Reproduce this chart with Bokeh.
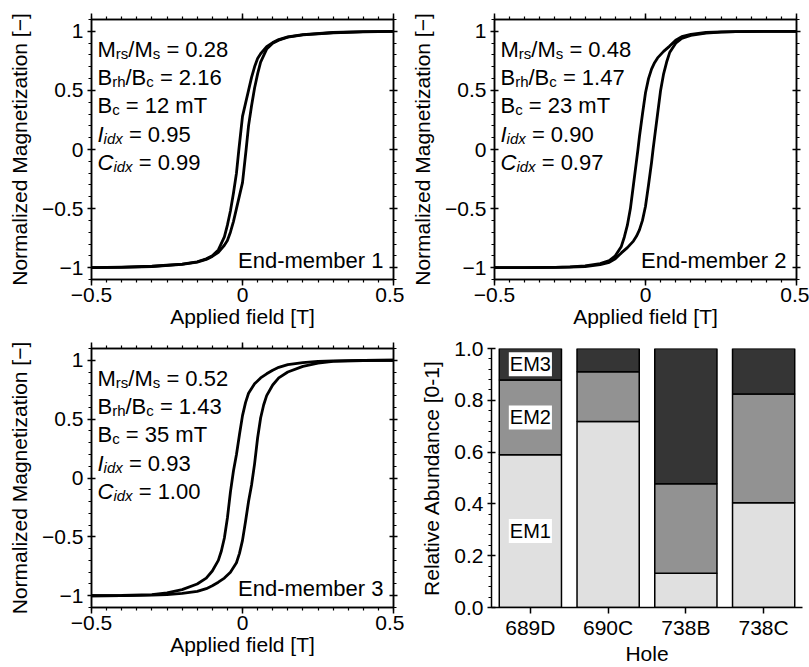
from bokeh.plotting import figure
from bokeh.models import (LinearAxis, SingleIntervalTicker, Label, ColumnDataSource,
                          FactorRange, PrintfTickFormatter)
from bokeh.layouts import column, row
from bokeh.core.properties import value
from bokeh.embed import file_html
from bokeh.resources import INLINE

FONT = "Liberation Sans"

# ---------------- data: hysteresis loops ----------------
# descending-field branch (from +0.5 T to -0.5 T) and ascending branch
em1_B_desc = [0.5, 0.4, 0.3, 0.2, 0.15, 0.12, 0.1, 0.08, 0.06, 0.05, 0.04, 0.03, 0.02, 0.01, 0.0,
              -0.012, -0.02, -0.03, -0.04, -0.05, -0.06, -0.08, -0.1, -0.12, -0.15, -0.2, -0.3, -0.4, -0.5]
em1_M_desc = [1.0, 0.997, 0.99, 0.972, 0.953, 0.93, 0.905, 0.87, 0.81, 0.77, 0.70, 0.61, 0.50, 0.39, 0.28,
              0.0, -0.2, -0.37, -0.52, -0.64, -0.74, -0.85, -0.90, -0.925, -0.95, -0.97, -0.988, -0.996, -1.0]
em1_B_asc = [-0.5, -0.4, -0.3, -0.2, -0.15, -0.12, -0.1, -0.08, -0.06, -0.05, -0.04, -0.03, -0.02, -0.01, 0.0,
             0.012, 0.02, 0.03, 0.04, 0.05, 0.06, 0.08, 0.1, 0.12, 0.15, 0.2, 0.3, 0.4, 0.5]
em1_M_asc = [-1.0, -0.997, -0.99, -0.972, -0.953, -0.93, -0.905, -0.87, -0.81, -0.77, -0.70, -0.61, -0.50, -0.39, -0.28,
             0.0, 0.2, 0.37, 0.52, 0.64, 0.74, 0.85, 0.90, 0.925, 0.95, 0.97, 0.988, 0.996, 1.0]

em2_B_desc = [0.5, 0.4, 0.3, 0.25, 0.2, 0.15, 0.12, 0.1, 0.08, 0.06, 0.04, 0.03, 0.02, 0.01, 0.0, -0.01, -0.02,
              -0.025, -0.03, -0.04, -0.05, -0.06, -0.07, -0.08, -0.1, -0.12, -0.15, -0.2, -0.25, -0.3, -0.4, -0.5]
em2_M_desc = [1.0, 1.0, 0.998, 0.995, 0.99, 0.975, 0.955, 0.925, 0.875, 0.83, 0.775, 0.735, 0.68, 0.60, 0.48, 0.30, 0.11,
              0.0, -0.1, -0.3, -0.5, -0.64, -0.74, -0.82, -0.90, -0.94, -0.965, -0.985, -0.993, -0.997, -1.0, -1.0]
em2_B_asc = [-0.5, -0.4, -0.3, -0.25, -0.2, -0.15, -0.12, -0.1, -0.08, -0.06, -0.04, -0.03, -0.02, -0.01, 0.0, 0.01, 0.02,
             0.025, 0.03, 0.04, 0.05, 0.06, 0.07, 0.08, 0.1, 0.12, 0.15, 0.2, 0.25, 0.3, 0.4, 0.5]
em2_M_asc = [-1.0, -1.0, -0.998, -0.995, -0.99, -0.975, -0.955, -0.925, -0.875, -0.83, -0.775, -0.735, -0.68, -0.60, -0.48, -0.30, -0.11,
             0.0, 0.1, 0.3, 0.5, 0.64, 0.74, 0.82, 0.90, 0.94, 0.965, 0.985, 0.993, 0.997, 1.0, 1.0]

em3_B_desc = [0.5, 0.4, 0.3, 0.25, 0.2, 0.15, 0.12, 0.1, 0.08, 0.06, 0.04, 0.02, 0.01, 0.0, -0.01, -0.02,
              -0.03, -0.04, -0.05, -0.06, -0.07, -0.08, -0.1, -0.12, -0.15, -0.2, -0.25, -0.3, -0.4, -0.5]
em3_M_desc = [1.0, 0.999, 0.995, 0.99, 0.98, 0.963, 0.94, 0.915, 0.885, 0.85, 0.80, 0.72, 0.64, 0.53, 0.37, 0.20,
              0.06, -0.12, -0.34, -0.51, -0.62, -0.70, -0.79, -0.85, -0.90, -0.948, -0.975, -0.99, -0.998, -1.0]
em3_B_asc = [-0.5, -0.4, -0.3, -0.25, -0.2, -0.15, -0.12, -0.1, -0.08, -0.06, -0.04, -0.02, -0.01, 0.0, 0.01, 0.02,
             0.03, 0.04, 0.05, 0.06, 0.07, 0.08, 0.1, 0.12, 0.15, 0.2, 0.25, 0.3, 0.4, 0.5]
em3_M_asc = [-1.0, -0.999, -0.995, -0.99, -0.98, -0.963, -0.94, -0.915, -0.885, -0.85, -0.80, -0.72, -0.64, -0.53, -0.37, -0.20,
             -0.06, 0.12, 0.34, 0.51, 0.62, 0.70, 0.79, 0.85, 0.90, 0.948, 0.975, 0.99, 0.998, 1.0]

# loop parameters
em_titles = ["End-member 1", "End-member 2", "End-member 3"]
mrs_ms = [0.28, 0.48, 0.52]
brh_bc = [2.16, 1.47, 1.43]
bc_mT = [12, 23, 35]
i_idx = [0.95, 0.90, 0.93]
c_idx = [0.99, 0.97, 1.00]

# axis tick labels
field_tick_labels = {-0.5: "\u22120.5", 0: "0", 0.5: "0.5"}
mag_tick_labels = {-1: "\u22121", -0.5: "\u22120.5", 0: "0", 0.5: "0.5", 1: "1"}

# ---------------- data: abundance bars ----------------
holes = ["689D", "690C", "738B", "738C"]
em1_frac = [0.590, 0.718, 0.132, 0.404]
em2_frac = [0.288, 0.192, 0.346, 0.420]
em3_frac = [0.122, 0.090, 0.522, 0.176]
em_labels = ["EM1", "EM2", "EM3"]
em_colors = ["#e0e0e0", "#929292", "#353535"]

# ---------------- helpers ----------------
ARIAL_W = {' ': 278, '/': 278, '=': 584, '.': 278, '-': 333, 'M': 833, 'B': 667, 'C': 722,
           'I': 278, 'E': 667, 'T': 611, 'r': 333, 's': 500, 'h': 556, 'c': 500, 'i': 222,
           'd': 556, 'x': 500, 'm': 833, 'e': 556, 'b': 556, 'n': 556}
for ch in "0123456789":
    ARIAL_W[ch] = 556


def text_width(t, size):
    return sum(ARIAL_W.get(c, 556) for c in t) / 1000.0 * size


MAIN = 22
SUB = 15
SUB_SHIFT = 4
LINE0 = 29.7
LINE_STEP = 28.3
X0 = 6

XR = (-0.5, 0.5)
YR = (-1.1, 1.1)


def add_rich_line(p, pieces, line_no):
    """pieces: list of (text, is_sub, italic)"""
    x = X0
    base = -(LINE0 + LINE_STEP * line_no)
    for txt, is_sub, italic in pieces:
        size = SUB if is_sub else MAIN
        lead = len(txt) - len(txt.lstrip(' '))
        x += text_width(' ' * lead, size)
        t = txt.lstrip(' ')
        p.add_layout(Label(x=XR[0], y=YR[1], x_offset=x,
                           y_offset=base - (SUB_SHIFT if is_sub else 0),
                           text=t, text_font=FONT, text_font_size=f"{size}px",
                           text_font_style="italic" if italic else "normal",
                           text_baseline="alphabetic", text_align="left", text_color="black"))
        x += text_width(t, size)


def style_axis(ax, major_in, major_out, minor_in, minor_out):
    ax.axis_line_width = 1.5
    ax.axis_line_color = "black"
    ax.major_tick_line_width = 1.5
    ax.minor_tick_line_width = 1.2
    ax.major_tick_line_color = "black"
    ax.minor_tick_line_color = "black"
    ax.major_tick_in = major_in
    ax.major_tick_out = major_out
    ax.minor_tick_in = minor_in
    ax.minor_tick_out = minor_out
    ax.major_label_text_font = FONT
    ax.major_label_text_font_size = "21px"
    ax.major_label_text_color = "black"
    ax.axis_label_text_font = FONT
    ax.axis_label_text_font_size = "21px"
    ax.axis_label_text_font_style = "normal"
    ax.axis_label_text_color = "black"


def hyst_fig(k, Bd, Md, Ba, Ma, width, height, mb_left, mb_right, mb_top, mb_bottom):
    p = figure(width=width, height=height, x_range=XR, y_range=YR,
               output_backend="svg", toolbar_location=None,
               min_border_left=mb_left, min_border_right=mb_right,
               min_border_top=mb_top, min_border_bottom=mb_bottom,
               x_axis_label="Applied field [T]",
               y_axis_label="Normalized Magnetization [\u2212]")
    p.xgrid.visible = False
    p.ygrid.visible = False
    p.outline_line_color = "black"
    p.outline_line_width = 1.5
    p.background_fill_color = "white"
    p.border_fill_color = "white"

    xt = SingleIntervalTicker(interval=0.5, num_minor_ticks=10)
    yt = SingleIntervalTicker(interval=0.5, num_minor_ticks=5)
    p.xaxis.ticker = xt
    p.yaxis.ticker = yt
    p.xaxis.major_label_overrides = field_tick_labels
    p.yaxis.major_label_overrides = mag_tick_labels
    style_axis(p.xaxis[0], 0, 6, 0, 3)
    style_axis(p.yaxis[0], 4, 4, 0, 3)
    p.xaxis.major_label_standoff = 2
    p.xaxis.axis_label_standoff = 0
    p.yaxis.major_label_standoff = 4
    p.yaxis.axis_label_standoff = 8

    top = LinearAxis(ticker=SingleIntervalTicker(interval=0.5, num_minor_ticks=10))
    right = LinearAxis(ticker=SingleIntervalTicker(interval=0.5, num_minor_ticks=5))
    style_axis(top, 0, 6, 0, 3)
    style_axis(right, 4, 4, 0, 3)
    for ax in (top, right):
        ax.major_label_text_font_size = "1px"
        ax.major_label_text_color = None
        ax.major_label_standoff = 0
    p.add_layout(top, "above")
    p.add_layout(right, "right")

    p.line(Ba, Ma, line_color="black", line_width=2.8, line_join="round")
    p.line(Bd, Md, line_color="black", line_width=2.8, line_join="round")

    add_rich_line(p, [("M", False, False), ("rs", True, False), ("/M", False, False),
                      ("s", True, False), (f" = {mrs_ms[k]:.2f}", False, False)], 0)
    add_rich_line(p, [("B", False, False), ("rh", True, False), ("/B", False, False),
                      ("c", True, False), (f" = {brh_bc[k]:.2f}", False, False)], 1)
    add_rich_line(p, [("B", False, False), ("c", True, False),
                      (f" = {bc_mT[k]} mT", False, False)], 2)
    add_rich_line(p, [("I", False, True), ("idx", True, True),
                      (f" = {i_idx[k]:.2f}", False, False)], 3)
    add_rich_line(p, [("C", False, True), ("idx", True, True),
                      (f" = {c_idx[k]:.2f}", False, False)], 4)

    p.add_layout(Label(x=XR[1], y=YR[0], x_offset=-10, y_offset=19, text=em_titles[k],
                       text_font=FONT, text_font_size=f"{MAIN}px", text_align="right",
                       text_baseline="alphabetic", text_color="black"))
    return p


H1 = 336
H2 = 331
p1 = hyst_fig(0, em1_B_desc, em1_M_desc, em1_B_asc, em1_M_asc, 404, H1, 91, 11, 19, 57)
p2 = hyst_fig(1, em2_B_desc, em2_M_desc, em2_B_asc, em2_M_asc, 405, H1, 90, 13, 19, 57)
p3 = hyst_fig(2, em3_B_desc, em3_M_desc, em3_B_asc, em3_M_asc, 404, H2, 91, 11, 12, 59)

# ---------------- bar chart ----------------
src = ColumnDataSource(dict(hole=holes, EM1=em1_frac, EM2=em2_frac, EM3=em3_frac))
p4 = figure(width=405, height=H2, x_range=FactorRange(*holes), y_range=(0, 1),
            output_backend="svg", toolbar_location=None,
            min_border_left=87, min_border_right=7, min_border_top=12, min_border_bottom=59,
            x_axis_label="Hole", y_axis_label="Relative Abundance [0-1]")
p4.xgrid.visible = False
p4.ygrid.visible = False
p4.outline_line_color = None
p4.vbar_stack(em_labels, x="hole", width=0.8, source=src,
              fill_color=em_colors, line_color="black", line_width=1.5)
p4.yaxis.ticker = SingleIntervalTicker(interval=0.2, num_minor_ticks=5)
p4.yaxis.formatter = PrintfTickFormatter(format="%.1f")
style_axis(p4.xaxis[0], 0, 6, 0, 0)
style_axis(p4.yaxis[0], 4, 4, 0, 3)
p4.xaxis.major_label_standoff = 2
p4.xaxis.axis_label_standoff = 0
p4.yaxis.major_label_standoff = 4
p4.yaxis.axis_label_standoff = 8

# segment labels on first bar, at the middle of each segment
first = 0
mid1 = em1_frac[first] / 2
mid2 = em1_frac[first] + em2_frac[first] / 2
mid3 = em1_frac[first] + em2_frac[first] + em3_frac[first] / 2
lab_src = ColumnDataSource(dict(x=[holes[first]] * 3, y=[mid1, mid2, mid3], t=em_labels))
p4.text(x="x", y="y", text="t", source=lab_src, text_font=value(FONT),
        text_font_size=value("20px"), text_align="center", text_baseline="middle",
        text_color="black", background_fill_color="white", padding=1)

layout = column(row(p1, p2), row(p3, p4))
open("out.html", "w").write(file_html(layout, INLINE))
